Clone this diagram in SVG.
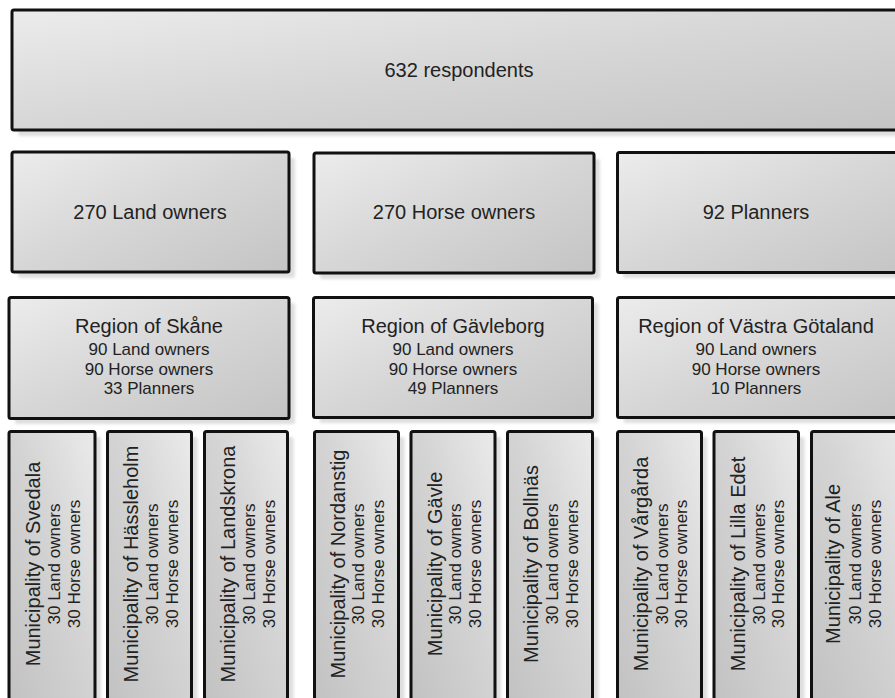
<svg xmlns="http://www.w3.org/2000/svg" width="895" height="698" viewBox="0 0 895 698">
<defs>
<linearGradient id="gh" x1="0" y1="0" x2="1" y2="1">
<stop offset="0" stop-color="#ececec"/>
<stop offset="0.5" stop-color="#d6d6d6"/>
<stop offset="1" stop-color="#c4c4c4"/>
</linearGradient>
<linearGradient id="gv" x1="0" y1="1" x2="1" y2="0">
<stop offset="0" stop-color="#c2c2c2"/>
<stop offset="0.55" stop-color="#d4d4d4"/>
<stop offset="1" stop-color="#ebebeb"/>
</linearGradient>
<filter id="blur" x="-10%" y="-10%" width="120%" height="120%">
<feGaussianBlur stdDeviation="1.5"/>
</filter>
</defs>
<style>
.sh{fill:#dedede;filter:url(#blur)}
.bh{fill:url(#gh);stroke:#111;stroke-width:3}
.bv{fill:url(#gv);stroke:#111;stroke-width:3}
text{font-family:"Liberation Sans",Arial,sans-serif;fill:#222;text-anchor:middle}
.t{font-size:20px}
.s{font-size:17px}
</style>
<rect width="895" height="698" fill="#ffffff"/>
<g id="connectors"/>

<g id="respondents">
<rect class="sh" x="18" y="16" width="900" height="120" rx="2"/>
<rect class="bh" x="12" y="10" width="900" height="120" rx="2"/>
<text class="t" x="459" y="77">632 respondents</text>
</g>

<g id="land-owners">
<rect class="sh" x="18" y="158" width="277" height="120" rx="2"/>
<rect class="bh" x="12" y="152" width="277" height="120" rx="2"/>
<text class="t" x="150" y="219">270 Land owners</text>
</g>
<g id="horse-owners">
<rect class="sh" x="320" y="159" width="280" height="120" rx="2"/>
<rect class="bh" x="314" y="153" width="280" height="120" rx="2"/>
<text class="t" x="454" y="219">270 Horse owners</text>
</g>
<g id="planners">
<rect class="sh" x="623" y="158" width="300" height="120" rx="2"/>
<rect class="bh" x="617.5" y="152.5" width="300" height="120" rx="2"/>
<text class="t" x="756" y="219">92 Planners</text>
</g>

<g id="region-skane">
<rect class="sh" x="15" y="303" width="280" height="121" rx="2"/>
<rect class="bh" x="9" y="297.5" width="280" height="121" rx="2"/>
<text class="t" x="149" y="333">Region of Skåne</text>
<text class="s" x="149" y="355">90 Land owners</text>
<text class="s" x="149" y="374.5">90 Horse owners</text>
<text class="s" x="149" y="394">33 Planners</text>
</g>
<g id="region-gavleborg">
<rect class="sh" x="319.5" y="303" width="279" height="120" rx="2"/>
<rect class="bh" x="313.5" y="297.5" width="279" height="120" rx="2"/>
<text class="t" x="453" y="333">Region of Gävleborg</text>
<text class="s" x="453" y="355">90 Land owners</text>
<text class="s" x="453" y="374.5">90 Horse owners</text>
<text class="s" x="453" y="394">49 Planners</text>
</g>
<g id="region-vastra-gotaland">
<rect class="sh" x="623.5" y="303" width="300" height="120" rx="2"/>
<rect class="bh" x="617.5" y="297.5" width="300" height="120" rx="2"/>
<text class="t" x="756" y="333">Region of Västra Götaland</text>
<text class="s" x="756" y="355">90 Land owners</text>
<text class="s" x="756" y="374.5">90 Horse owners</text>
<text class="s" x="756" y="394">10 Planners</text>
</g>

<g id="mun-svedala">
<rect class="sh" x="15" y="437" width="86" height="268" rx="2"/>
<rect class="bv" x="9" y="431.5" width="86" height="268" rx="2"/>
<text class="t" transform="translate(40,564) rotate(-90)">Municipality of Svedala</text>
<text class="s" transform="translate(59.5,564) rotate(-90)">30 Land owners</text>
<text class="s" transform="translate(79.5,564) rotate(-90)">30 Horse owners</text>
</g>
<g id="mun-hassleholm">
<rect class="sh" x="113.5" y="437" width="84" height="268" rx="2"/>
<rect class="bv" x="107.5" y="431.5" width="84" height="268" rx="2"/>
<text class="t" transform="translate(138,564) rotate(-90)">Municipality of Hässleholm</text>
<text class="s" transform="translate(158,564) rotate(-90)">30 Land owners</text>
<text class="s" transform="translate(178,564) rotate(-90)">30 Horse owners</text>
</g>
<g id="mun-landskrona">
<rect class="sh" x="210.5" y="437" width="83" height="268" rx="2"/>
<rect class="bv" x="204.5" y="431.5" width="83" height="268" rx="2"/>
<text class="t" transform="translate(235,564) rotate(-90)">Municipality of Landskrona</text>
<text class="s" transform="translate(255,564) rotate(-90)">30 Land owners</text>
<text class="s" transform="translate(274.5,564) rotate(-90)">30 Horse owners</text>
</g>
<g id="mun-nordanstig">
<rect class="sh" x="320.5" y="437" width="84" height="268" rx="2"/>
<rect class="bv" x="314.5" y="431.5" width="84" height="268" rx="2"/>
<text class="t" transform="translate(345,564) rotate(-90)">Municipality of Nordanstig</text>
<text class="s" transform="translate(364,564) rotate(-90)">30 Land owners</text>
<text class="s" transform="translate(383.5,564) rotate(-90)">30 Horse owners</text>
</g>
<g id="mun-gavle">
<rect class="sh" x="417" y="437" width="84" height="268" rx="2"/>
<rect class="bv" x="411" y="431.5" width="84" height="268" rx="2"/>
<text class="t" transform="translate(441.5,564) rotate(-90)">Municipality of Gävle</text>
<text class="s" transform="translate(461,564) rotate(-90)">30 Land owners</text>
<text class="s" transform="translate(480.5,564) rotate(-90)">30 Horse owners</text>
</g>
<g id="mun-bollnas">
<rect class="sh" x="513.5" y="437" width="85" height="268" rx="2"/>
<rect class="bv" x="507.5" y="431.5" width="85" height="268" rx="2"/>
<text class="t" transform="translate(538,564) rotate(-90)">Municipality of Bollnäs</text>
<text class="s" transform="translate(558,564) rotate(-90)">30 Land owners</text>
<text class="s" transform="translate(577.5,564) rotate(-90)">30 Horse owners</text>
</g>
<g id="mun-vargarda">
<rect class="sh" x="623.5" y="437" width="84" height="268" rx="2"/>
<rect class="bv" x="617.5" y="431.5" width="84" height="268" rx="2"/>
<text class="t" transform="translate(648,564) rotate(-90)">Municipality of Vårgårda</text>
<text class="s" transform="translate(667.5,564) rotate(-90)">30 Land owners</text>
<text class="s" transform="translate(687,564) rotate(-90)">30 Horse owners</text>
</g>
<g id="mun-lilla-edet">
<rect class="sh" x="720" y="437" width="84.5" height="268" rx="2"/>
<rect class="bv" x="714" y="431.5" width="84.5" height="268" rx="2"/>
<text class="t" transform="translate(745,564) rotate(-90)">Municipality of Lilla Edet</text>
<text class="s" transform="translate(764.5,564) rotate(-90)">30 Land owners</text>
<text class="s" transform="translate(784,564) rotate(-90)">30 Horse owners</text>
</g>
<g id="mun-ale">
<rect class="sh" x="817.5" y="437" width="100" height="268" rx="2"/>
<rect class="bv" x="811.5" y="431.5" width="100" height="268" rx="2"/>
<text class="t" transform="translate(840,564) rotate(-90)">Municipality of Ale</text>
<text class="s" transform="translate(861,564) rotate(-90)">30 Land owners</text>
<text class="s" transform="translate(881,564) rotate(-90)">30 Horse owners</text>
</g>
</svg>
